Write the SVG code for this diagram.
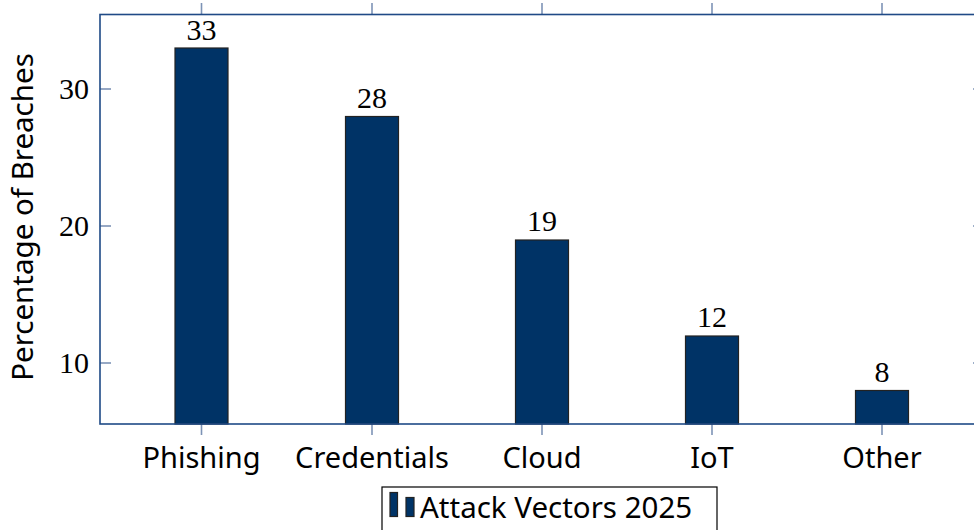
<svg xmlns="http://www.w3.org/2000/svg" width="974" height="530" viewBox="0 0 974 530">
<style>
.axis{fill:none;stroke:#1f4a86;stroke-width:1.6}
.tick{stroke:#7d93b6;stroke-width:1.6}
.bar{fill:#003366;stroke:#222;stroke-width:1.2}
.num{font-family:"Liberation Serif","DejaVu Serif",serif;font-size:30px;fill:#000;text-anchor:middle}
.ytl{font-family:"Liberation Serif","DejaVu Serif",serif;font-size:30px;fill:#000;text-anchor:end}
.cat{font-family:"Noto Sans","Open Sans",sans-serif;font-size:29px;fill:#000;text-anchor:middle}
.lab{font-family:"Noto Sans","Open Sans",sans-serif;font-size:29.5px;fill:#000}
</style>
<rect width="974" height="530" fill="#fff"/>
<g id="connectors">
<g id="ticks">
<line class="tick" x1="201.5" y1="3" x2="201.5" y2="14"/>
<line class="tick" x1="372" y1="3" x2="372" y2="14"/>
<line class="tick" x1="542" y1="3" x2="542" y2="14"/>
<line class="tick" x1="712" y1="3" x2="712" y2="14"/>
<line class="tick" x1="882" y1="3" x2="882" y2="14"/>
<line class="tick" x1="201.5" y1="424" x2="201.5" y2="435"/>
<line class="tick" x1="372" y1="424" x2="372" y2="435"/>
<line class="tick" x1="542" y1="424" x2="542" y2="435"/>
<line class="tick" x1="712" y1="424" x2="712" y2="435"/>
<line class="tick" x1="882" y1="424" x2="882" y2="435"/>
<line class="tick" x1="100" y1="89" x2="111" y2="89"/>
<line class="tick" x1="100" y1="226" x2="111" y2="226"/>
<line class="tick" x1="100" y1="363" x2="111" y2="363"/>
<line class="tick" x1="973" y1="89" x2="984" y2="89"/>
<line class="tick" x1="973" y1="226" x2="984" y2="226"/>
<line class="tick" x1="973" y1="363" x2="984" y2="363"/>
</g>
</g>
<g id="bars">
<g id="bar-phishing"><rect class="bar" x="175" y="48" width="53" height="376"/><text class="num" x="201.5" y="40">33</text></g>
<g id="bar-credentials"><rect class="bar" x="345.5" y="116.5" width="53" height="307.5"/><text class="num" x="372" y="108">28</text></g>
<g id="bar-cloud"><rect class="bar" x="515.5" y="240" width="53" height="184"/><text class="num" x="542" y="231">19</text></g>
<g id="bar-iot"><rect class="bar" x="685.5" y="336" width="53" height="88"/><text class="num" x="712" y="327">12</text></g>
<g id="bar-other"><rect class="bar" x="855.5" y="390.5" width="53" height="33.5"/><text class="num" x="882" y="382">8</text></g>
</g>
<g id="axes">
<rect class="axis" x="100" y="14.5" width="884" height="409.5"/>
<text class="ytl" x="89" y="99">30</text>
<text class="ytl" x="89" y="236">20</text>
<text class="ytl" x="89" y="373">10</text>
<text class="cat" x="201.5" y="468">Phishing</text>
<text class="cat" x="372" y="468">Credentials</text>
<text class="cat" x="542" y="468">Cloud</text>
<text class="cat" x="712" y="468">IoT</text>
<text class="cat" x="882" y="468">Other</text>
<text class="lab" text-anchor="middle" transform="translate(33,217) rotate(-90)">Percentage of Breaches</text>
</g>
<g id="legend">
<rect x="382" y="487" width="335" height="50" fill="#fff" stroke="#000" stroke-width="1.2"/>
<rect class="bar" x="390" y="492.5" width="7.5" height="24"/>
<rect class="bar" x="406" y="497.5" width="8" height="19"/>
<text class="lab" x="420" y="518">Attack Vectors 2025</text>
</g>
</svg>
